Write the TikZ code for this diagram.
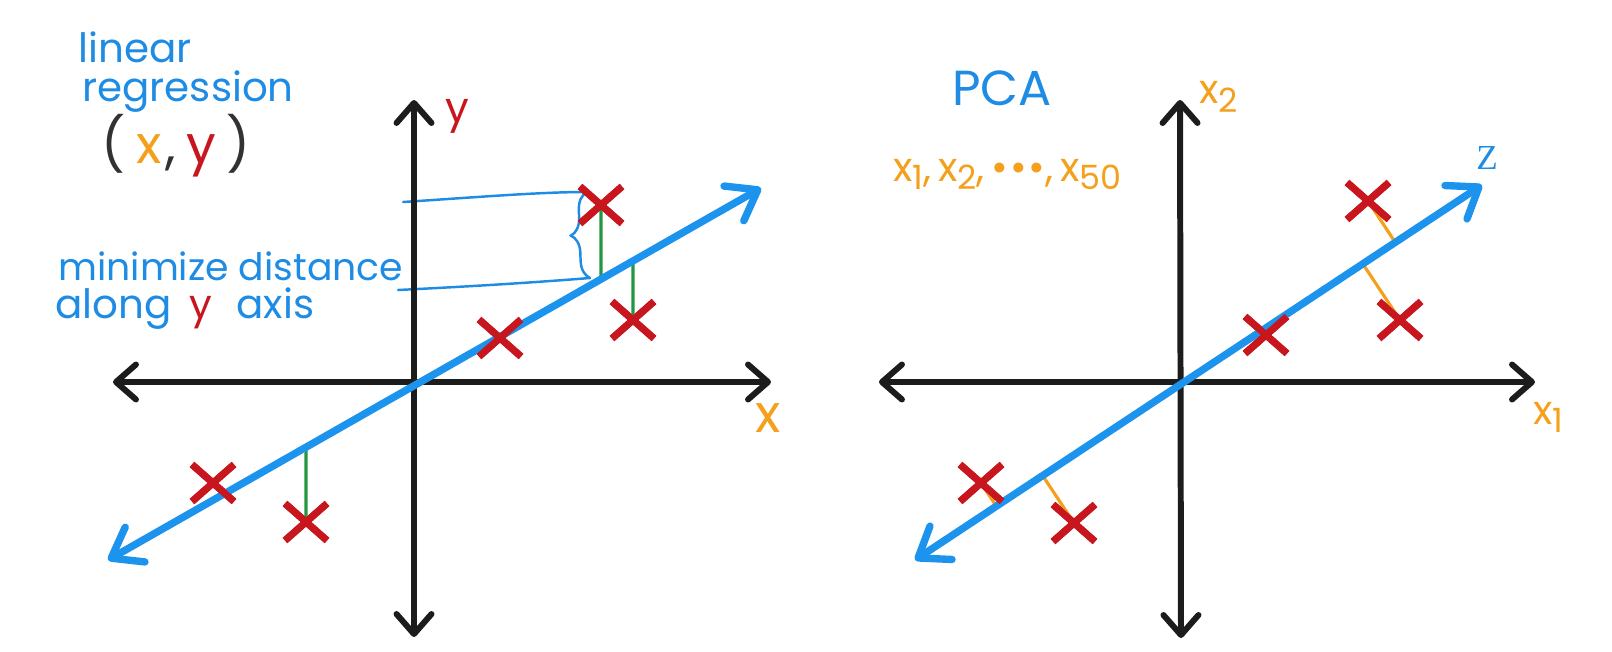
\documentclass[tikz,border=0pt]{standalone}
\usepackage{fontspec}
\setmainfont{Poppins}
\newfontfamily\zfont{Liberation Serif}
\usetikzlibrary{arrows.meta,shapes.misc,decorations.pathreplacing,calc}
\definecolor{lblue}{RGB}{28,148,238}
\definecolor{tblue}{RGB}{30,140,228}
\definecolor{xred}{RGB}{200,22,30}
\definecolor{xorange}{RGB}{244,160,28}
\definecolor{xgreen}{RGB}{36,150,64}
\definecolor{axblack}{RGB}{28,28,28}
\definecolor{pgray}{RGB}{50,50,50}
\newcommand{\mysub}[1]{\raisebox{-0.4ex}{\fontsize{19}{19}\selectfont #1}}
\begin{document}
\begin{tikzpicture}[x=0.02cm,y=-0.02cm,
  axisline/.style={axblack,line width=3.4pt,
    {Straight Barb[length=4mm,width=7mm,round]}-{Straight Barb[length=4mm,width=7mm,round]}},
  zline/.style={lblue,line width=4.2pt,
    {Straight Barb[length=5.5mm,width=8mm,round]}-{Straight Barb[length=5.5mm,width=8mm,round]}},
  xmark/.style={cross out,draw=xred,line width=4pt,minimum width=0.7cm,minimum height=0.6cm,inner sep=0pt},
  gline/.style={xgreen,line width=1.8pt},
  oline/.style={xorange,line width=1.8pt},
  bline/.style={tblue,line width=1.4pt,line cap=round},
  hand/.style={inner sep=0pt,font=\fontsize{23}{26}\selectfont},
  big/.style={inner sep=0pt,font=\fontsize{30}{34}\selectfont}
]
\useasboundingbox (0,0) rectangle (1612,652);

% ---------------- left plot ----------------
\coordinate (Lw) at (113,382);
\coordinate (Le) at (771,382);
\coordinate (Ln) at (414,100);
\coordinate (Ls) at (414,637);
\coordinate (LzA) at (108,560);
\coordinate (LzB) at (761,188);

% bracket lines and brace
\coordinate (bt1) at (403,202);
\coordinate (bt2) at (587,192);
\coordinate (bb1) at (398,290);
\coordinate (bb2) at (590,278);
\draw[bline] (bt1) .. controls (480,197) and (540,192) .. (bt2);
\draw[bline] (bb1) .. controls (480,286) and (540,282) .. (bb2);
\draw[bline,decorate,decoration={brace,amplitude=10pt}] (bb2) -- (bt2);

\draw[axisline] (Lw) -- (Le);
\draw[axisline] (Ln) -- (Ls);

% points
\node[xmark] (c1) at (213,483) {};
\node[xmark] (c2) at (306,522) {};
\node[xmark] (c3) at (500,338) {};
\node[xmark] (c4) at (601,205) {};
\node[xmark] (c5) at (633,320) {};

\coordinate (f2) at (intersection cs: first line={(LzA)--(LzB)}, second line={(c2.center)--($(c2.center)+(0,10)$)});
\coordinate (f4) at (intersection cs: first line={(LzA)--(LzB)}, second line={(c4.center)--($(c4.center)+(0,10)$)});
\coordinate (f5) at (intersection cs: first line={(LzA)--(LzB)}, second line={(c5.center)--($(c5.center)+(0,10)$)});
\draw[gline] (c2.center) -- (f2);
\draw[gline] (c4.center) -- (f4);
\draw[gline] (c5.center) -- (f5);

\draw[zline] (LzA) -- (LzB);

\node[xmark] at (c1) {};
\node[xmark] at (c2) {};
\node[xmark] at (c3) {};
\node[xmark] at (c4) {};
\node[xmark] at (c5) {};

% labels
\node[hand,text=xred,font=\fontsize{24}{26}\selectfont] (ylab) at (457,116) {y};
\node[big,text=xorange] (xlab) at (768,418) {x};

\node[hand,text=tblue,anchor=base west] (t1) at (78,63) {linear};
\node[hand,text=tblue,anchor=base west] (t2) at (82,102) {regression};
\node[big,text=pgray] (t3) at (176,146) {(\hspace{6pt}\textcolor{xorange}{x}\hspace{2pt},\hspace{6pt}\textcolor{xred}{y}\hspace{6pt})};
\node[hand,text=tblue,anchor=base west,font=\fontsize{21.5}{24}\selectfont] (t4) at (58,280) {minimize distance};
\node[hand,text=tblue,anchor=base west] (t5) at (55,318) {along\hspace{10pt}\textcolor{xred}{y}\hspace{14pt}axis};

% ---------------- right plot ----------------
\coordinate (Rw) at (879,382);
\coordinate (Re) at (1535,382);
\coordinate (Rn) at (1180,100);
\coordinate (Rs) at (1181,638);
\coordinate (RzA) at (915,560);
\coordinate (RzB) at (1482,185);

\draw[axisline] (Rw) -- (Re);
\draw[axisline] (Rn) -- (Rs);

\node[xmark] (d1) at (981,483) {};
\node[xmark] (d2) at (1074,523) {};
\node[xmark] (d3) at (1266,335) {};
\node[xmark] (d4) at (1368,201) {};
\node[xmark] (d5) at (1400,320) {};

\draw[oline] (d1.center) -- ($(RzA)!(d1.center)!(RzB)$);
\draw[oline] (d2.center) -- ($(RzA)!(d2.center)!(RzB)$);
\draw[oline] (d4.center) -- ($(RzA)!(d4.center)!(RzB)$);
\draw[oline] (d5.center) -- ($(RzA)!(d5.center)!(RzB)$);

\draw[zline] (RzA) -- (RzB);

\node[xmark] at (d1) {};
\node[xmark] at (d2) {};
\node[xmark] at (d3) {};
\node[xmark] at (d4) {};
\node[xmark] at (d5) {};

\node[inner sep=0pt,text=tblue,font=\fontsize{28}{30}\selectfont] (pca) at (1002,88) {PCA};
\node[hand,text=xorange,anchor=base west] (vars) at (893,181) {x\mysub{1},\hspace{4pt}x\mysub{2},\hspace{4pt}\textbullet\hspace{1pt}\textbullet\hspace{1pt}\textbullet,\hspace{4pt}x\mysub{50}};
\node[hand,text=xorange,anchor=base west] (x2lab) at (1199,104) {x\mysub{2}};
\node[inner sep=0pt,text=tblue,font=\zfont\fontsize{20}{22}\selectfont] (zlab) at (1487,158) {Z};
\node[hand,text=xorange,anchor=base west] (x1lab) at (1533,424) {x\mysub{1}};
\end{tikzpicture}
\end{document}
